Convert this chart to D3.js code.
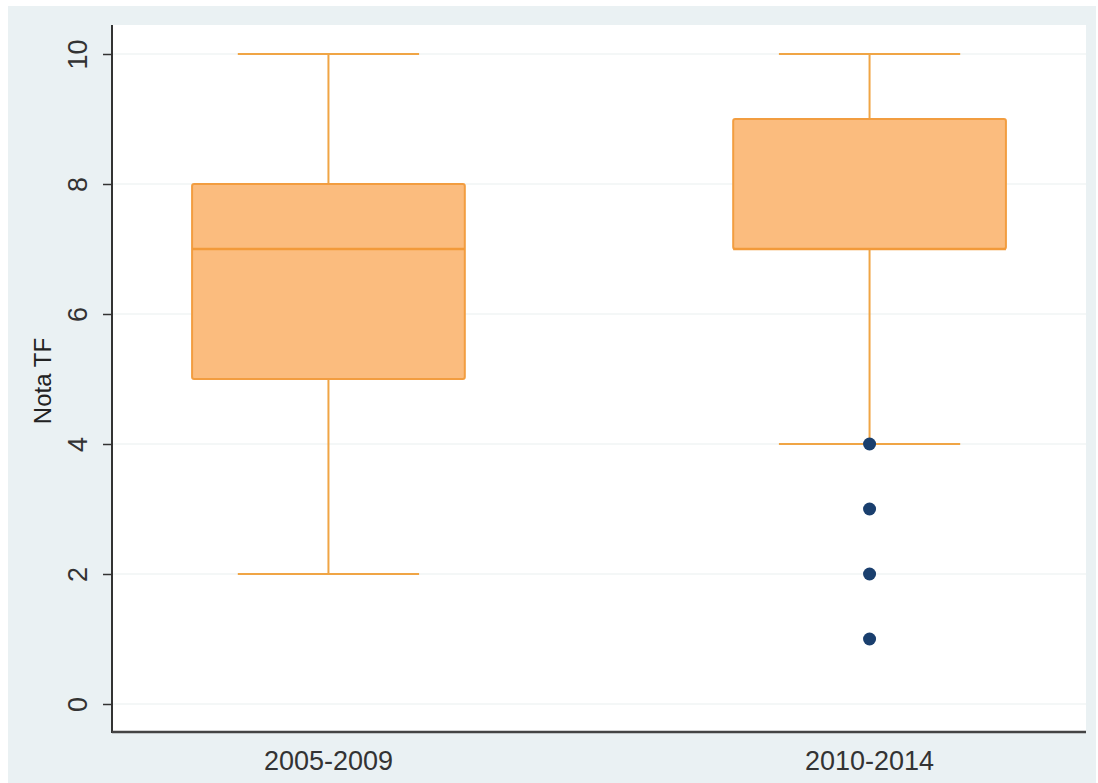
<!DOCTYPE html>
<html>
<head>
<meta charset="utf-8">
<script src="https://cdn.jsdelivr.net/npm/d3@7"></script>
<style>
  html, body { margin: 0; padding: 0; background: #ffffff; }
  svg { display: block; }
</style>
</head>
<body>
<svg id="chart" width="1098" height="783"></svg>
<script>
// Grade distributions (Nota TF) per period
const categories = ["2005-2009", "2010-2014"];
const whiskerLow  = [2, 4];
const q1          = [5, 7];
const median      = [7, 7];
const q3          = [8, 9];
const whiskerHigh = [10, 10];
const outliers    = [[], [4, 3, 2, 1]];
const yTicks      = [0, 2, 4, 6, 8, 10];
const yLabel      = "Nota TF";

const svg = d3.select("#chart");
const W = 1098, H = 783;
const font = "Liberation Sans, Arial, sans-serif";

// Graph region background
svg.append("rect").attr("x", 8).attr("y", 6).attr("width", W - 10).attr("height", H - 6)
  .attr("fill", "#eaf1f3");

const plot = { left: 112, right: 1086, top: 25, bottom: 732 };

// Plot region
svg.append("rect")
  .attr("x", plot.left).attr("y", plot.top)
  .attr("width", plot.right - plot.left).attr("height", plot.bottom - plot.top)
  .attr("fill", "#ffffff");

const y = d3.scaleLinear().domain([0, 10]).range([704, 54]);
const x = d3.scalePoint().domain(categories).range([plot.left, plot.right]).padding(0.4);
const boxW = x.step() * 0.504;
const capW = x.step() * 0.335;

// Gridlines
svg.append("g").selectAll("line").data(yTicks).join("line")
  .attr("x1", plot.left).attr("x2", plot.right)
  .attr("y1", d => y(d)).attr("y2", d => y(d))
  .attr("stroke", "#eaeff0").attr("stroke-width", 1.2);

// Y axis with vertical tick labels
const yAxis = d3.axisLeft(y).tickValues(yTicks).tickSize(9).tickFormat(d3.format("d"));
const gy = svg.append("g").attr("transform", `translate(${plot.left},0)`).call(yAxis);
gy.select(".domain").remove();
gy.selectAll(".tick line").attr("stroke", "#333").attr("stroke-width", 1.5);
gy.selectAll(".tick text")
  .attr("font-family", font)
  .attr("font-size", 27).attr("fill", "#333")
  .attr("text-anchor", "middle")
  .attr("dominant-baseline", "central")
  .attr("x", -34).attr("y", 0).attr("dy", null)
  .attr("transform", "rotate(-90, -34, 0)");

// Axis lines
svg.append("line").attr("x1", plot.left).attr("x2", plot.left)
  .attr("y1", plot.top).attr("y2", plot.bottom + 1)
  .attr("stroke", "#333").attr("stroke-width", 2);
svg.append("line").attr("x1", plot.left).attr("x2", plot.right)
  .attr("y1", plot.bottom).attr("y2", plot.bottom)
  .attr("stroke", "#444").attr("stroke-width", 2.5);

// X category labels
svg.append("g").selectAll("text").data(categories).join("text")
  .attr("x", d => x(d)).attr("y", 770)
  .attr("text-anchor", "middle")
  .attr("font-family", font)
  .attr("font-size", 27).attr("fill", "#333")
  .text(d => d);

// Y axis title
svg.append("text")
  .attr("transform", "translate(51, 381) rotate(-90)")
  .attr("text-anchor", "middle")
  .attr("font-family", font)
  .attr("font-size", 24).attr("fill", "#222")
  .text(yLabel);

// Boxes
const boxes = svg.append("g").selectAll("g").data(categories).join("g");
const lineColor = "#f0a545";

boxes.append("line")
  .attr("x1", d => x(d)).attr("x2", d => x(d))
  .attr("y1", (d, i) => y(whiskerHigh[i])).attr("y2", (d, i) => y(q3[i]))
  .attr("stroke", lineColor).attr("stroke-width", 2);
boxes.append("line")
  .attr("x1", d => x(d)).attr("x2", d => x(d))
  .attr("y1", (d, i) => y(q1[i])).attr("y2", (d, i) => y(whiskerLow[i]))
  .attr("stroke", lineColor).attr("stroke-width", 2);
boxes.append("line")
  .attr("x1", d => x(d) - capW / 2).attr("x2", d => x(d) + capW / 2)
  .attr("y1", (d, i) => y(whiskerHigh[i])).attr("y2", (d, i) => y(whiskerHigh[i]))
  .attr("stroke", lineColor).attr("stroke-width", 2);
boxes.append("line")
  .attr("x1", d => x(d) - capW / 2).attr("x2", d => x(d) + capW / 2)
  .attr("y1", (d, i) => y(whiskerLow[i])).attr("y2", (d, i) => y(whiskerLow[i]))
  .attr("stroke", lineColor).attr("stroke-width", 2);

boxes.append("rect")
  .attr("x", d => x(d) - boxW / 2).attr("width", boxW)
  .attr("y", (d, i) => y(q3[i])).attr("height", (d, i) => y(q1[i]) - y(q3[i]))
  .attr("rx", 2)
  .attr("fill", "#fbbc7e").attr("stroke", "#f29d40").attr("stroke-width", 2);

boxes.append("line")
  .attr("x1", d => x(d) - boxW / 2).attr("x2", d => x(d) + boxW / 2)
  .attr("y1", (d, i) => y(median[i])).attr("y2", (d, i) => y(median[i]))
  .attr("stroke", "#f29a3a").attr("stroke-width", 2.5);

// Outside values
boxes.each(function(d, i) {
  d3.select(this).selectAll("circle").data(outliers[i]).join("circle")
    .attr("cx", x(d)).attr("cy", v => y(v)).attr("r", 6.5)
    .attr("fill", "#1a3f6e");
});
</script>
</body>
</html>
